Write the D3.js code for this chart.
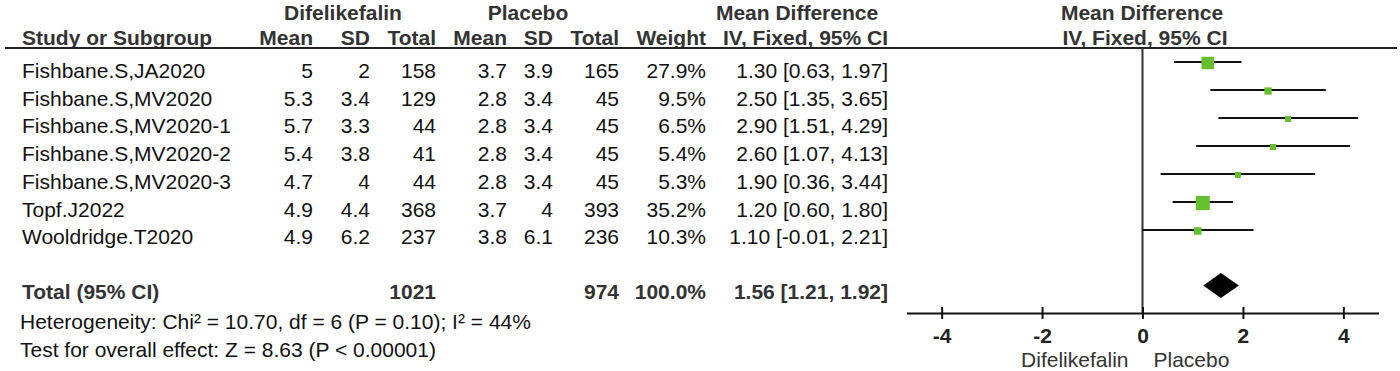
<!DOCTYPE html>
<html>
<head>
<meta charset="utf-8">
<script src="https://cdn.jsdelivr.net/npm/d3@7"></script>
<style>
  html, body { margin: 0; padding: 0; background: #fff; }
  svg text { font-family: "Liberation Sans", Arial, sans-serif; }
</style>
</head>
<body>
<svg id="forest" width="1400" height="371"></svg>
<script>
// study data
var studies = ["Fishbane.S,JA2020", "Fishbane.S,MV2020", "Fishbane.S,MV2020-1", "Fishbane.S,MV2020-2",
               "Fishbane.S,MV2020-3", "Topf.J2022", "Wooldridge.T2020"];
var expMean = [5, 5.3, 5.7, 5.4, 4.7, 4.9, 4.9];
var expSD   = [2, 3.4, 3.3, 3.8, 4, 4.4, 6.2];
var expN    = [158, 129, 44, 41, 44, 368, 237];
var ctlMean = [3.7, 2.8, 2.8, 2.8, 2.8, 3.7, 3.8];
var ctlSD   = [3.9, 3.4, 3.4, 3.4, 3.4, 4, 6.1];
var ctlN    = [165, 45, 45, 45, 45, 393, 236];
var weights = [27.9, 9.5, 6.5, 5.4, 5.3, 35.2, 10.3];
var md      = [1.30, 2.50, 2.90, 2.60, 1.90, 1.20, 1.10];
var ciLow   = [0.63, 1.35, 1.51, 1.07, 0.36, 0.60, -0.01];
var ciHigh  = [1.97, 3.65, 4.29, 4.13, 3.44, 1.80, 2.21];

var totalMD = 1.56, totalLow = 1.21, totalHigh = 1.92;
var totalExpN = 1021, totalCtlN = 974, totalWeight = 100.0;
var heterogeneity = "Heterogeneity: Chi² = 10.70, df = 6 (P = 0.10); I² = 44%";
var overallTest = "Test for overall effect: Z = 8.63 (P < 0.00001)";

var xTicks = [-4, -2, 0, 2, 4];
var favoursLeft = "Difelikefalin", favoursRight = "Placebo";

var svg = d3.select("#forest");
var FS = "21px";
var HEAD = "#333";

function txt(x, y, s, anchor, bold, color){
    return svg.append("text")
        .attr("x", x).attr("y", y).attr("dy", "0.35em")
        .attr("text-anchor", anchor || "start")
        .attr("font-size", FS)
        .attr("font-weight", bold ? "bold" : "normal")
        .attr("fill", color || "#111")
        .text(s);
}

// column right edges
var colRight = [313, 370, 436, 507, 553, 619, 706, 888];
var nameX = 22;

// header
txt(343, 12.5, "Difelikefalin", "middle", true, HEAD);
txt(528, 12.5, "Placebo", "middle", true, HEAD);
txt(797, 12.5, "Mean Difference", "middle", true, HEAD);
txt(1142, 12.5, "Mean Difference", "middle", true, HEAD);

var heads = ["Mean", "SD", "Total", "Mean", "SD", "Total", "Weight", "IV, Fixed, 95% CI"];
txt(nameX, 38, "Study or Subgroup", "start", true, HEAD);
heads.forEach(function(h, i){ txt(colRight[i], 38, h, "end", true, HEAD); });
txt(1145, 38, "IV, Fixed, 95% CI", "middle", true, HEAD);

svg.append("line")
    .attr("x1", 5).attr("x2", 1397).attr("y1", 48).attr("y2", 48)
    .attr("stroke", "#222").attr("stroke-width", 2);

// rows
var textY = d3.scalePoint().domain(d3.range(studies.length)).range([70.7, 237]);
var plotY = d3.scalePoint().domain(d3.range(studies.length)).range([62, 230]);

studies.forEach(function(s, i){
    var y = textY(i);
    txt(nameX, y, s);
    var vals = [expMean[i], expSD[i], expN[i], ctlMean[i], ctlSD[i], ctlN[i],
                weights[i].toFixed(1) + "%",
                md[i].toFixed(2) + " [" + ciLow[i].toFixed(2) + ", " + ciHigh[i].toFixed(2) + "]"];
    vals.forEach(function(v, j){ txt(colRight[j], y, v, "end"); });
});

// total row
var totY = 291.5;
txt(nameX, totY, "Total (95% CI)", "start", true, HEAD);
txt(colRight[2], totY, totalExpN, "end", true, HEAD);
txt(colRight[5], totY, totalCtlN, "end", true, HEAD);
txt(colRight[6], totY, totalWeight.toFixed(1) + "%", "end", true, HEAD);
txt(colRight[7], totY, totalMD.toFixed(2) + " [" + totalLow.toFixed(2) + ", " + totalHigh.toFixed(2) + "]", "end", true, HEAD);

txt(20, 322, heterogeneity);
txt(20, 350, overallTest);

// forest plot
var x = d3.scaleLinear().domain([-4.7, 4.7]).range([906.5, 1378.5]);
var axisY = 313;

svg.append("line")
    .attr("x1", x(0)).attr("x2", x(0)).attr("y1", 48).attr("y2", axisY)
    .attr("stroke", "#333").attr("stroke-width", 2);

svg.selectAll(".ci")
    .data(studies)
    .enter().append("line")
    .attr("class", "ci")
    .attr("x1", function(d, i){ return x(ciLow[i]); })
    .attr("x2", function(d, i){ return x(ciHigh[i]); })
    .attr("y1", function(d, i){ return plotY(i); })
    .attr("y2", function(d, i){ return plotY(i); })
    .attr("stroke", "#111").attr("stroke-width", 2);

var boxSize = d3.scaleSqrt().domain([0, d3.max(weights)]).range([0, 14]);
svg.selectAll(".box")
    .data(studies)
    .enter().append("rect")
    .attr("class", "box")
    .attr("width", function(d, i){ return Math.max(6, boxSize(weights[i])); })
    .attr("height", function(d, i){ return Math.max(6, boxSize(weights[i])); })
    .attr("x", function(d, i){ return x(md[i]) - Math.max(6, boxSize(weights[i])) / 2; })
    .attr("y", function(d, i){ return plotY(i) + 1 - Math.max(6, boxSize(weights[i])) / 2; })
    .attr("fill", "#66bf2c");

// pooled diamond
var dy = 285.5;
svg.append("path")
    .attr("d", "M" + x(totalLow) + "," + dy + "L" + x(totalMD) + "," + (dy - 12.5) +
               "L" + x(totalHigh) + "," + dy + "L" + x(totalMD) + "," + (dy + 12.5) + "Z")
    .attr("fill", "#000");

// axis
var axis = d3.axisBottom(x).tickValues(xTicks).tickFormat(function(d){ return String(d); })
    .tickSizeOuter(0).tickSizeInner(6).tickPadding(0);
var ag = svg.append("g").attr("transform", "translate(0," + axisY + ")").call(axis);
ag.select(".domain").attr("stroke", "#111").attr("stroke-width", 2);
ag.selectAll(".tick line").attr("y1", -6).attr("y2", 6).attr("stroke", "#111").attr("stroke-width", 2);
ag.selectAll(".tick text")
    .attr("y", 23).attr("dy", "0.35em")
    .attr("font-size", FS).attr("font-weight", "bold")
    .attr("font-family", "Liberation Sans, Arial, sans-serif")
    .attr("fill", "#222");

txt(x(0) - 14, 360, favoursLeft, "end", false, "#333");
txt(x(0) + 11, 360, favoursRight, "start", false, "#333");
</script>
</body>
</html>
